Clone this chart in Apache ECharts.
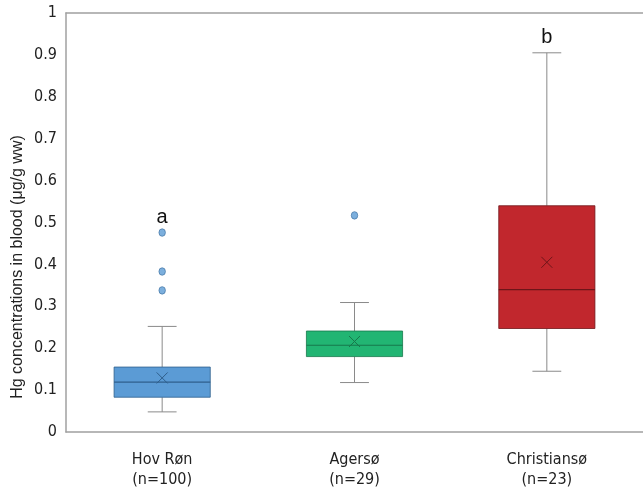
<!DOCTYPE html>
<html>
<head>
<meta charset="utf-8">
<script src="https://cdn.jsdelivr.net/npm/echarts@6/dist/echarts.min.js"></script>
<style>html,body{margin:0;padding:0;background:#fff;}#c{width:643px;height:490px;}</style>
</head>
<body>
<div id="c"></div>
<script>
const categories = ['Hov Røn\n(n=100)', 'Agersø\n(n=29)', 'Christiansø\n(n=23)'];
const minVals    = [0.048, 0.118, 0.145];
const q1Vals     = [0.083, 0.180, 0.247];
const medianVals = [0.119, 0.207, 0.340];
const q3Vals     = [0.155, 0.241, 0.540];
const maxVals    = [0.252, 0.309, 0.905];
const meanVals   = [0.129, 0.216, 0.405];
const outlierGroups = [0, 0, 0, 1];
const outlierVals   = [0.476, 0.383, 0.338, 0.517];
const letters = ['a', '', 'b'];
const yTicks = ['0','0.1','0.2','0.3','0.4','0.5','0.6','0.7','0.8','0.9','1'];

const fills   = ['#5B9BD5', '#22B573', '#C1272D'];
const darks   = ['#2F5F8C', '#17784B', '#6E1519'];

const boxData = categories.map((c, i) => {
  const outs = outlierVals.filter((v, k) => outlierGroups[k] === i);
  const top = Math.max(maxVals[i], ...outs);
  return [i, minVals[i], q1Vals[i], medianVals[i], q3Vals[i], maxVals[i], meanVals[i], top];
});
const outlierData = outlierVals.map((v, k) => [outlierGroups[k], v]);

const condensed = "'Liberation Sans Narrow', 'DejaVu Sans Condensed', sans-serif";

const chart = echarts.init(document.getElementById('c'), null, {renderer: 'canvas'});
chart.setOption({
  animation: false,
  backgroundColor: '#fff',
  grid: {left: 66, right: 0, top: 13, bottom: 57},
  xAxis: [{
    type: 'category', data: categories, position: 'bottom',
    axisLine: {show: true, lineStyle: {color: '#a0a0a0', width: 1.5}},
    axisTick: {show: false},
    axisLabel: {color: '#222', fontFamily: condensed, fontSize: 16, lineHeight: 20, margin: 18}
  }, {
    type: 'category', data: categories, position: 'top',
    axisLine: {show: true, lineStyle: {color: '#a0a0a0', width: 1.5}},
    axisTick: {show: false}, axisLabel: {show: false}
  }],
  yAxis: {
    type: 'value', min: 0, max: 1, interval: 0.1,
    axisLine: {show: true, lineStyle: {color: '#a0a0a0', width: 1.5}},
    axisTick: {show: false},
    splitLine: {show: false},
    axisLabel: {color: '#222', fontFamily: condensed, fontSize: 16, margin: 9,
      formatter: (v) => yTicks[Math.round(v * 10)]}
  },
  graphic: [{
    type: 'text',
    x: 18, y: 267, rotation: Math.PI / 2,
    style: {text: 'Hg concentrations in blood (μg/g ww)', fill: '#222',
      font: "16px 'Liberation Sans', Arial, sans-serif", textAlign: 'center', textVerticalAlign: 'middle'}
  }],
  series: [{
    type: 'custom',
    data: boxData,
    encode: {x: 0, y: [1, 2, 3, 4, 5]},
    renderItem: function (params, api) {
      const i = api.value(0);
      const bw = api.size([1, 0])[0] * 0.5;
      const pMin = api.coord([i, api.value(1)]);
      const pQ1 = api.coord([i, api.value(2)]);
      const pMed = api.coord([i, api.value(3)]);
      const pQ3 = api.coord([i, api.value(4)]);
      const pMax = api.coord([i, api.value(5)]);
      const pMean = api.coord([i, api.value(6)]);
      const pTop = api.coord([i, api.value(7)]);
      const x = pMed[0];
      const cap = bw * 0.15;
      const m = 5.5;
      const wStyle = {stroke: '#8a8a8a', lineWidth: 1};
      const children = [
        {type: 'line', shape: {x1: x, y1: pQ3[1], x2: x, y2: pMax[1]}, style: wStyle},
        {type: 'line', shape: {x1: x, y1: pQ1[1], x2: x, y2: pMin[1]}, style: wStyle},
        {type: 'line', shape: {x1: x - cap, y1: pMax[1], x2: x + cap, y2: pMax[1]}, style: wStyle},
        {type: 'line', shape: {x1: x - cap, y1: pMin[1], x2: x + cap, y2: pMin[1]}, style: wStyle},
        {type: 'rect', shape: {x: x - bw / 2, y: pQ3[1], width: bw, height: pQ1[1] - pQ3[1]},
          style: {fill: fills[i], stroke: darks[i], lineWidth: 0.8, opacity: 1}},
        {type: 'line', shape: {x1: x - bw / 2, y1: pMed[1], x2: x + bw / 2, y2: pMed[1]},
          style: {stroke: darks[i], lineWidth: 1.2}},
        {type: 'line', shape: {x1: x - m, y1: pMean[1] - m, x2: x + m, y2: pMean[1] + m},
          style: {stroke: darks[i], lineWidth: 1}},
        {type: 'line', shape: {x1: x - m, y1: pMean[1] + m, x2: x + m, y2: pMean[1] - m},
          style: {stroke: darks[i], lineWidth: 1}}
      ];
      if (letters[i]) {
        children.push({type: 'text', x: x, y: pTop[1] - 15,
          style: {text: letters[i], fill: '#111', font: "20px 'Liberation Sans', Arial, sans-serif",
            textAlign: 'center', textVerticalAlign: 'middle'}});
      }
      return {type: 'group', children: children};
    },
    z: 2
  }, {
    type: 'scatter',
    data: outlierData,
    symbol: 'circle',
    symbolSize: [6.5, 7.5],
    itemStyle: {color: '#5B9BD5', borderColor: '#3A6E9E', borderWidth: 0.8},
    z: 3
  }]
});
</script>
</body>
</html>
